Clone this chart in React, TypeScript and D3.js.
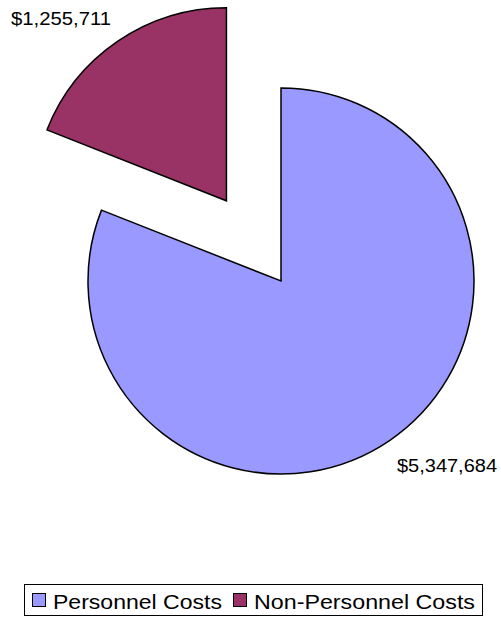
import React from 'react';
import * as d3 from 'd3';

const categories = ['Personnel Costs', 'Non-Personnel Costs'];
const values = [5347684, 1255711];
const valueLabels = ['$5,347,684', '$1,255,711'];
const colors = ['#9999FF', '#993366'];
const exploded = [0, 97];

const width = 501;
const height = 618;
const cx = 281;
const cy = 281;
const radius = 193;

// legend item positions (marker x, text x, text width)
const legendX = [32, 233];
const legendTextW = [169, 221];

export default function App() {
  const pie = d3.pie<number>().sort(null).value(d => d);
  const arcs = pie(values);
  const arc = d3.arc<d3.PieArcDatum<number>>().innerRadius(0).outerRadius(radius);

  return (
    <svg width={width} height={height} style={{ position: 'absolute', left: 0, top: 0 }}
      fontFamily="'Liberation Sans', Arial, sans-serif">
      <rect width={width} height={height} fill="#fff" />
      {arcs.map((a, i) => {
        const mid = (a.startAngle + a.endAngle) / 2;
        const dx = Math.sin(mid) * exploded[i];
        const dy = -Math.cos(mid) * exploded[i];
        return (
          <path key={i} d={arc(a) || ''} fill={colors[i]} stroke="#000" strokeWidth={1.5}
            transform={`translate(${cx + dx},${cy + dy})`} />
        );
      })}
      {/* value labels */}
      <text x={397} y={472} fontSize={18} fill="#000" textLength={100} lengthAdjust="spacingAndGlyphs">{valueLabels[0]}</text>
      <text x={11} y={25} fontSize={18} fill="#000" textLength={100} lengthAdjust="spacingAndGlyphs">{valueLabels[1]}</text>

      {/* legend */}
      <rect x={24.5} y={584.5} width={458} height={31} fill="#fff" stroke="#000" strokeWidth={1} />
      {categories.map((c, i) => (
        <g key={c}>
          <rect x={legendX[i] + 0.5} y={593.5} width={13} height={13} fill={colors[i]} stroke="#000" strokeWidth={1} />
          <text x={legendX[i] + 21} y={609} fontSize={21} fill="#000"
            textLength={legendTextW[i]} lengthAdjust="spacingAndGlyphs">{c}</text>
        </g>
      ))}
    </svg>
  );
}
